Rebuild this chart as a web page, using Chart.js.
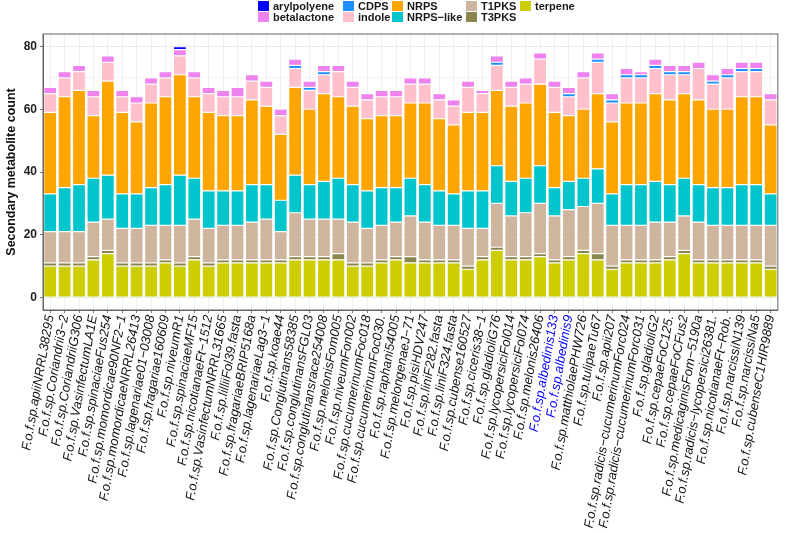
<!DOCTYPE html>
<html>
<head>
<meta charset="utf-8">
<script src="https://cdn.jsdelivr.net/npm/chart.js@4"></script>
<style>
  body { margin: 0; background: #fff; font-family: "Liberation Sans", Arial, sans-serif; }
  #wrap { position: relative; width: 787px; height: 534px; }
  #legend { position: absolute; top: 0; left: 0; width: 787px; height: 24px; }
  .col { position: absolute; top: 0; display: flex; flex-direction: column; }
  .item { display: flex; align-items: center; height: 11px; font-size: 11px; font-weight: bold; color: #1a1a1a; white-space: nowrap; }
  .sw { width: 11px; height: 10px; margin-right: 4px; }
</style>
</head>
<body>
<div id="wrap">
  <div id="legend"></div>
  <canvas id="chart" width="787" height="534"></canvas>
</div>
<script>
// strain names along the x axis
const strains = [
  'F.o.f.sp.apiiNRRL38295', 'F.o.f.sp.Coriandrii3\u22122', 'F.o.f.sp.CoriandriiG306', 'F.o.f.sp.VasinfectumLA1E',
  'F.o.f.sp.spinaciaeFus254', 'F.o.f.sp.momordicae90NF2\u22121', 'F.o.f.sp.momordicaeNRRL26413', 'F.o.f.sp.lagenariae01\u221203008',
  'F.o.f.sp.fragariae160609', 'F.o.f.sp.niveumR1', 'F.o.f.sp.spinaciaeMF15', 'F.o.f.sp.nicotianaeFt\u22121512',
  'F.o.f.sp.VasinfectumNRRL31665', 'F.o.f.sp.lilliiFol39.fasta', 'F.o.f.sp.fragariaeBRIP5168a', 'F.o.f.sp.lagenariaeLag3\u22121',
  'F.o.f.sp.koae44', 'F.o.f.sp.Conglutinans58385', 'F.o.f.sp.conglutinansFGL03', 'F.o.f.sp.conglutinansrace254008',
  'F.o.f.sp.melonisFom005', 'F.o.f.sp.niveumFon002', 'F.o.f.sp.cucumerinumFoc018', 'F.o.f.sp.cucumerinumFoc030.',
  'F.o.f.sp.raphani54005', 'F.o.f.sp.melongenaeJ\u221271', 'F.o.f.sp.pisiHDV247', 'F.o.f.sp.liniF282.fasta',
  'F.o.f.sp.liniF324.fasta', 'F.o.f.sp.cubense160527', 'F.o.f.sp.ciceris38\u22121', 'F.o.f.sp.gladioliG76',
  'F.o.f.sp.lycopersiciFol014', 'F.o.f.sp.lycopersiciFol074', 'F.o.f.sp.melonis26406', 'F.o.f.sp.albedinis133',
  'F.o.f.sp.albedinis9', 'F.o.f.sp.matthiolaePHW726', 'F.o.f.sp.tulipaeTu67', 'F.o.f.sp.apii207',
  'F.o.f.sp.radicis\u2212cucumerinumForc024', 'F.o.f.sp.radicis\u2212cucumerinumForc031', 'F.o.f.sp.gladioliG2', 'F.o.f.sp.cepaeFoC125.',
  'F.o.f.sp.cepaeFoCFus2', 'F.o.f.sp.medicaginisFom\u22125190a', 'F.o.f.sp.radicis\u2212lycopersici26381.', 'F.o.f.sp.nicotianaeFt\u2212Rob.',
  'F.o.f.sp.narcissiN139', 'F.o.f.sp.narcissiNa5', 'F.o.f.sp.cubenseC1HIR9889'
];
const highlighted = ['F.o.f.sp.albedinis133', 'F.o.f.sp.albedinis9'];

// counts per cluster type (stack order bottom -> top)
const terpene     = [10,10,10,12,14,10,10,10,11,10,12,10,11,11,11,11,11,12,12,12,12,10,10,11,12,11,11,11,11,9,12,15,12,12,13,11,12,14,12,9,11,11,11,12,14,11,11,11,11,11,9];
const t3pks       = [1,1,1,1,1,1,1,1,1,1,1,1,1,1,1,1,1,1,1,1,2,1,1,1,1,2,1,1,1,1,1,1,1,1,1,1,1,1,2,1,1,1,1,1,1,1,1,1,1,1,1];
const t1pks       = [10,10,10,11,10,11,11,12,11,12,12,11,11,11,12,13,9,14,12,12,11,13,11,11,11,13,12,11,11,12,9,14,13,14,16,14,15,14,16,13,11,11,12,11,11,12,11,11,11,11,13];
const nrpsLike    = [12,14,15,14,14,11,11,12,13,16,13,12,11,11,12,11,10,12,11,12,13,12,12,12,11,12,12,11,10,12,12,12,11,11,12,9,9,9,11,10,13,13,13,12,12,12,12,12,13,13,10];
const nrps        = [26,29,30,20,30,26,23,27,28,32,26,25,24,24,27,25,21,28,24,28,26,25,23,23,23,24,26,23,22,25,25,24,24,24,26,24,21,22,24,23,26,26,28,27,27,27,25,25,28,28,22];
const indole      = [6,6,6,6,6,5,6,6,6,6,6,6,6,6,6,6,6,6,6,6,8,6,6,6,6,6,6,6,6,8,6,8,6,6,8,8,6,10,10,6,8,8,8,8,6,10,8,10,8,8,8];
const cdps        = [0,0,0,0,0,0,0,0,0,0,0,0,0,0,0,0,0,1,1,1,0,0,0,0,0,0,0,0,0,0,0,1,0,0,0,0,1,0,1,1,1,1,1,1,1,0,1,1,1,1,0];
const betalactone = [2,2,2,2,2,2,2,2,2,2,2,2,2,3,2,2,2,2,2,2,2,2,2,2,2,2,2,2,2,2,1,2,2,2,2,2,2,2,2,2,2,1,2,2,2,2,2,2,2,2,2];
const arylpolyene = [0,0,0,0,0,0,0,0,0,1,0,0,0,0,0,0,0,0,0,0,0,0,0,0,0,0,0,0,0,0,0,0,0,0,0,0,0,0,0,0,0,0,0,0,0,0,0,0,0,0,0];

const yTicks = [0, 20, 40, 60, 80];

// legend order (column-wise like the original)
const legendNames = ['arylpolyene', 'betalactone', 'CDPS', 'indole', 'NRPS', 'NRPS\u2212like', 'T1PKS', 'T3PKS', 'terpene'];
const legendColX = [258, 343, 392, 466, 520];
const colors = {
  'arylpolyene': '#0000FF',
  'betalactone': '#EE82EE',
  'CDPS': '#1E90FF',
  'indole': '#FFC0CB',
  'NRPS': '#FFA500',
  'NRPS\u2212like': '#00C5CD',
  'T1PKS': '#CFB59D',
  'T3PKS': '#8B864E',
  'terpene': '#CDCD00'
};

const series = [
  ['terpene', terpene], ['T3PKS', t3pks], ['T1PKS', t1pks], ['NRPS\u2212like', nrpsLike],
  ['NRPS', nrps], ['indole', indole], ['CDPS', cdps], ['betalactone', betalactone], ['arylpolyene', arylpolyene]
];

// build html legend, 2 rows per column
const legendDiv = document.getElementById('legend');
for (let i = 0; i < legendNames.length; i += 2) {
  const col = document.createElement('div');
  col.className = 'col';
  col.style.left = legendColX[i / 2] + 'px';
  legendNames.slice(i, i + 2).forEach(name => {
    const item = document.createElement('div');
    item.className = 'item';
    const sw = document.createElement('span');
    sw.className = 'sw';
    sw.style.background = colors[name];
    item.appendChild(sw);
    item.appendChild(document.createTextNode(name));
    col.appendChild(item);
  });
  legendDiv.appendChild(col);
}

// panel border (top + right too, like ggplot theme_bw)
const panelBorder = {
  id: 'panelBorder',
  afterDraw(chart) {
    const a = chart.chartArea;
    const ctx = chart.ctx;
    ctx.save();
    ctx.strokeStyle = '#666';
    ctx.lineWidth = 1;
    ctx.strokeRect(a.left, a.top, a.right - a.left, a.bottom - a.top);
    ctx.restore();
  }
};

const ctx = document.getElementById('chart');
new Chart(ctx, {
  type: 'bar',
  data: {
    labels: strains,
    datasets: series.map(([name, vals]) => ({
      label: name,
      data: vals,
      backgroundColor: colors[name],
      borderColor: 'rgba(255,255,255,0.55)',
      borderWidth: 0.6,
      borderSkipped: false,
      barPercentage: 0.9,
      categoryPercentage: 1.0
    }))
  },
  options: {
    responsive: false,
    animation: false,
    layout: { padding: { top: 34, right: 2, left: 0, bottom: 0 } },
    plugins: { legend: { display: false }, tooltip: { enabled: false } },
    scales: {
      x: {
        stacked: true,
        afterFit: s => { s.height = 224; },
        grid: { offset: false, color: '#ececec', lineWidth: 0.8, tickLength: 3, tickColor: '#555' },
        border: { color: '#666' },
        ticks: {
          autoSkip: false,
          minRotation: 80,
          maxRotation: 80,
          padding: 1,
          font: { family: 'Liberation Sans', size: 13, style: 'italic' },
          color: c => highlighted.includes(strains[c.index]) ? '#0000FF' : '#111'
        }
      },
      y: {
        stacked: true,
        min: -4,
        max: 84,
        afterFit: s => { s.width = 43; },
        grid: {
          color: c => (c.tick.value % 20 === 0 ? '#e4e4e4' : '#f3f3f3'),
          lineWidth: 0.8,
          tickLength: 3,
          tickColor: c => (c.tick.value % 20 === 0 ? '#555' : 'rgba(0,0,0,0)')
        },
        border: { color: '#666' },
        ticks: {
          stepSize: 10,
          includeBounds: false,
          padding: 3,
          font: { family: 'Liberation Sans', size: 12, weight: 'bold' },
          color: '#222',
          callback: v => (yTicks.includes(v) ? String(v) : '')
        },
        title: {
          display: true,
          text: 'Secondary metabolite count',
          font: { family: 'Liberation Sans', size: 12.5, weight: 'bold' },
          color: '#111',
          padding: { top: 4, bottom: 2 }
        }
      }
    }
  },
  plugins: [panelBorder]
});
</script>
</body>
</html>
